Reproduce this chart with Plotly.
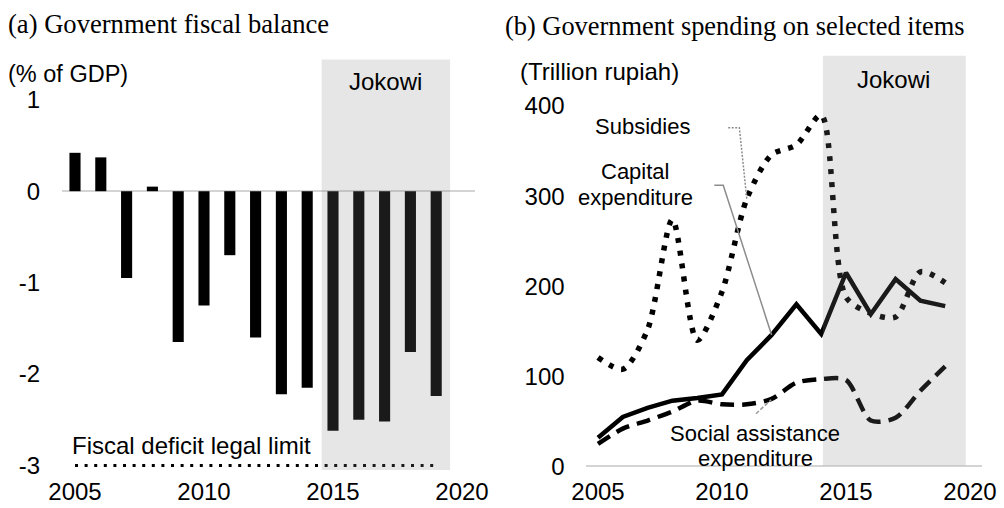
import plotly.graph_objects as go

# ---- data ----
years = list(range(2005, 2020))
fiscal_balance = [0.42, 0.37, -0.95, 0.05, -1.65, -1.25, -0.70, -1.60,
                  -2.22, -2.15, -2.62, -2.50, -2.52, -1.76, -2.24]
legal_limit = -3
subsidies = [121, 108, 152, 274, 140, 194, 297, 346, 357, 390,
             188, 170, 166, 216, 204]
capital_exp = [32, 55, 65, 73, 76, 80, 118, 146, 180, 147,
               215, 169, 208, 184, 178]
social_assist = [25, 42, 51, 61, 73, 69, 69, 75, 93, 97,
                 96, 51, 54, 84, 111]
jokowi_left = (2014.56, 2019.54)
jokowi_right = (2014.07, 2019.83)
year_ticks = [2005, 2010, 2015, 2020]
left_ticks = [-3, -2, -1, 0, 1]
left_tick_text = ["-3", "-2", "-1", "0", "1"]
right_ticks = [0, 100, 200, 300, 400]

W, H = 1004, 508
SANS = "Liberation Sans, Arial, sans-serif"
SERIF = "Liberation Serif, Times New Roman, serif"


def px_x(p):
    return p / W


def px_y(p):
    return 1 - p / H


fig = go.Figure()

# (a) fiscal balance bars
fig.add_trace(go.Bar(x=years, y=fiscal_balance, width=0.43,
                     marker=dict(color="black", line=dict(width=0)),
                     xaxis="x", yaxis="y"))
fig.add_trace(go.Scatter(x=[years[0], years[-1]], y=[legal_limit, legal_limit],
                         mode="lines",
                         line=dict(color="black", width=3, dash="3px,6.6px"),
                         xaxis="x", yaxis="y"))

# (b) spending lines
fig.add_trace(go.Scatter(x=years, y=subsidies, mode="lines",
                         line=dict(color="black", width=5.5, dash="5px,8px",
                                   shape="spline", smoothing=0.8),
                         xaxis="x2", yaxis="y2"))
fig.add_trace(go.Scatter(x=years, y=social_assist, mode="lines",
                         line=dict(color="black", width=4.5, dash="14px,8px",
                                   shape="spline", smoothing=0.8),
                         xaxis="x2", yaxis="y2"))
fig.add_trace(go.Scatter(x=years, y=capital_exp, mode="lines",
                         line=dict(color="black", width=4.5),
                         xaxis="x2", yaxis="y2"))

axis_common = dict(showgrid=False, showline=False, ticks="", automargin=False,
                   tickfont=dict(family=SANS, size=24, color="black"))

fig.update_layout(
    width=W, height=H, margin=dict(l=0, r=0, t=0, b=0, pad=0),
    paper_bgcolor="white", plot_bgcolor="white", showlegend=False,
    xaxis=dict(domain=[px_x(62.1), px_x(474.9)], range=[2004.5, 2020.5],
               tickvals=year_ticks, zeroline=False, anchor="y",
               ticklabelstandoff=5, **axis_common),
    yaxis=dict(domain=[px_y(470), px_y(55)], range=[-3.05, 1.49],
               tickvals=left_ticks, ticktext=left_tick_text, anchor="x",
               zeroline=True, zerolinecolor="#d4d4d4", zerolinewidth=2,
               ticklabelstandoff=21, **axis_common),
    xaxis2=dict(domain=[px_x(585.6), px_x(982.4)], range=[2004.5, 2020.5],
                tickvals=year_ticks, zeroline=False, anchor="y2",
                ticklabelstandoff=5, **axis_common),
    yaxis2=dict(domain=[px_y(470), px_y(55)], range=[-3.9, 456.7],
                tickvals=right_ticks, anchor="x2",
                zeroline=True, zerolinecolor="#d4d4d4", zerolinewidth=2,
                ticklabelstandoff=20, **axis_common),
)

# Jokowi period shading (translucent, over the marks)
shade = "rgba(130,130,130,0.2)"
fig.add_shape(type="rect", xref="x", yref="y",
              x0=jokowi_left[0], x1=jokowi_left[1], y0=-3.05, y1=1.44,
              fillcolor=shade, line=dict(width=0), layer="above")
fig.add_shape(type="rect", xref="x2", yref="y2",
              x0=jokowi_right[0], x1=jokowi_right[1], y0=1, y1=456,
              fillcolor=shade, line=dict(width=0), layer="above")

# leader lines for the series labels
fig.add_shape(type="path", xref="x2", yref="y2",
              path="M 2010.25 376 L 2010.70 376 L 2011.0 297",
              line=dict(color="#8c8c8c", width=1.5, dash="2px,1.5px"))
fig.add_shape(type="path", xref="x2", yref="y2",
              path="M 2009.69 312 L 2010.05 312 L 2012.0 146",
              line=dict(color="#8c8c8c", width=1.5))
fig.add_shape(type="line", xref="x2", yref="y2",
              x0=2011.37, y0=58.6, x1=2011.98, y1=74,
              line=dict(color="#9a9a9a", width=1.5, dash="4px,2px"))

ann = []


def text(x, y, s, xref, yref, size=22, xanchor="center", family=SANS):
    ann.append(dict(x=x, y=y, xref=xref, yref=yref, text=s, showarrow=False,
                    xanchor=xanchor, yanchor="middle",
                    font=dict(family=family, size=size, color="black")))


text(px_x(6), px_y(24), "(a) Government fiscal balance", "paper", "paper",
     size=26.6, xanchor="left", family=SERIF)
text(px_x(503), px_y(26), "(b) Government spending on selected items",
     "paper", "paper", size=26.4, xanchor="left", family=SERIF)
text(px_x(6), px_y(74), "(% of GDP)", "paper", "paper", size=23.5,
     xanchor="left")
text(px_x(518), px_y(72), "(Trillion rupiah)", "paper", "paper", size=24,
     xanchor="left")
text(2017.02, 1.195, "Jokowi", "x", "y", size=24)
text(2016.9, 429, "Jokowi", "x2", "y2", size=24)
text(2004.8, -2.777, "Fiscal deficit legal limit", "x", "y", size=24,
     xanchor="left")
text(2006.81, 377, "Subsidies", "x2", "y2")
text(2006.5, 327, "Capital", "x2", "y2")
text(2006.5, 299, "expenditure", "x2", "y2")
text(2011.33, 37, "Social assistance", "x2", "y2")
text(2011.35, 9.4, "expenditure", "x2", "y2")
fig.update_layout(annotations=ann)

fig.write_html("out.html")
